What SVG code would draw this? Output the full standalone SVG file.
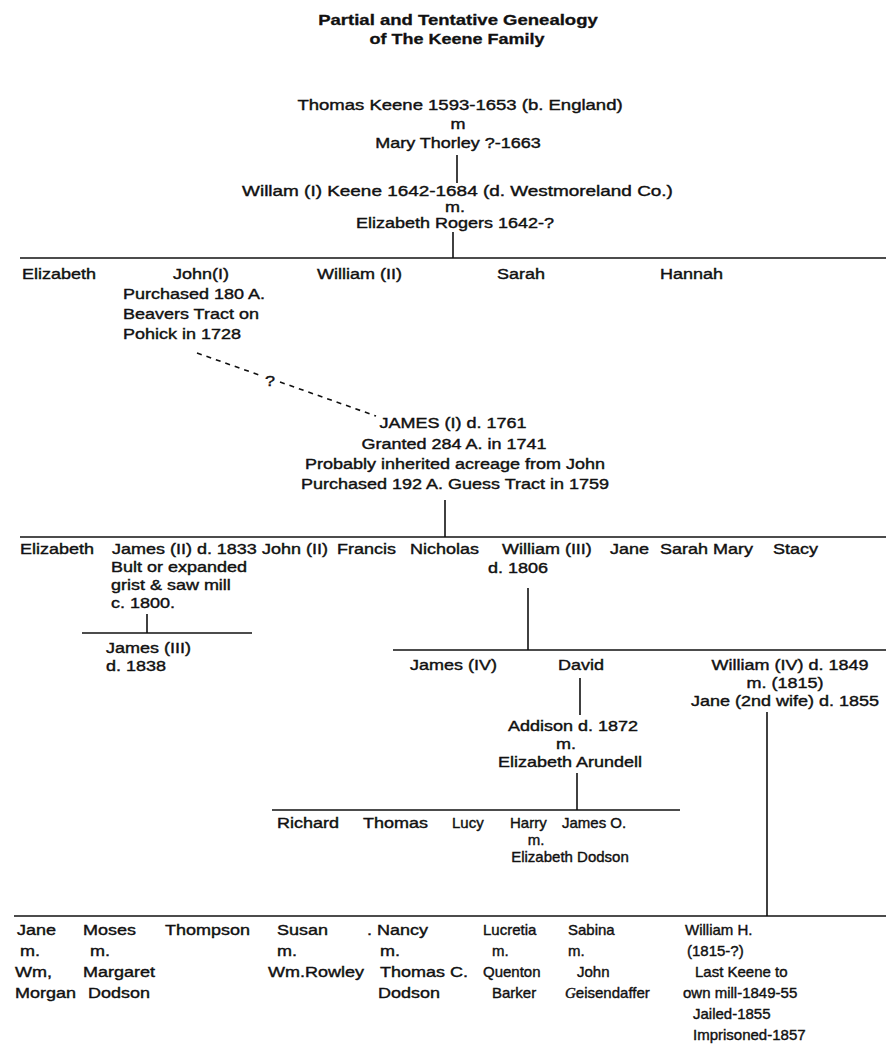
<svg xmlns="http://www.w3.org/2000/svg" width="886" height="1046" viewBox="0 0 886 1046">
<style>
text{font-family:"Liberation Sans",Arial,sans-serif;font-size:15px;fill:#111;stroke:#111;stroke-width:0.4}
.t{font-weight:bold;stroke-width:0.3}
.m{text-anchor:middle}
.ln{stroke:#111;stroke-width:1.6;fill:none}
.ds{stroke:#111;stroke-width:1.6;fill:none;stroke-dasharray:5 5}
.g{font-family:"Liberation Serif",serif;font-style:italic}
</style>
<rect width="886" height="1046" fill="#fff"/>
<g id="connectors">
<line class="ln" x1="457" y1="155" x2="457" y2="183"/>
<line class="ln" x1="453" y1="232" x2="453" y2="258"/>
<line class="ln" x1="20" y1="258" x2="886" y2="258"/>
<line class="ds" x1="197" y1="353" x2="262" y2="376"/>
<line class="ds" x1="280" y1="382" x2="376" y2="416"/>
<line class="ln" x1="445" y1="500" x2="445" y2="537"/>
<line class="ln" x1="20" y1="537" x2="886" y2="537"/>
<line class="ln" x1="147" y1="614" x2="147" y2="633"/>
<line class="ln" x1="82" y1="633" x2="252" y2="633"/>
<line class="ln" x1="528" y1="588" x2="528" y2="650"/>
<line class="ln" x1="393" y1="650" x2="886" y2="650"/>
<line class="ln" x1="580" y1="678" x2="580" y2="715"/>
<line class="ln" x1="577" y1="773" x2="577" y2="810"/>
<line class="ln" x1="272" y1="810" x2="680" y2="810"/>
<line class="ln" x1="767" y1="712" x2="767" y2="916"/>
<line class="ln" x1="14" y1="916" x2="886" y2="916"/>
</g>
<g transform="scale(1.2 1)">
<g id="title">
<text class="t m" x="381.67" y="25" textLength="233" lengthAdjust="spacingAndGlyphs">Partial and Tentative Genealogy</text>
<text class="t m" x="380.83" y="44">of The Keene Family</text>
</g>
<g id="thomas">
<text class="m" x="383.33" y="110" textLength="271" lengthAdjust="spacingAndGlyphs">Thomas Keene 1593-1653  (b. England)</text>
<text class="m" x="381.67" y="129">m</text>
<text class="m" x="381.67" y="148">Mary Thorley ?-1663</text>
</g>
<g id="william1">
<text class="m" x="381.25" y="196" textLength="359" lengthAdjust="spacingAndGlyphs">Willam (I) Keene  1642-1684 (d. Westmoreland Co.)</text>
<text class="m" x="379.17" y="212">m.</text>
<text class="m" x="379.17" y="228">Elizabeth Rogers 1642-?</text>
</g>
<g id="elizabeth1"><text x="18.33" y="279">Elizabeth</text></g>
<g id="john1">
<text x="144.17" y="279">John(I)</text>
<text x="102.5" y="299">Purchased 180 A.</text>
<text x="102.5" y="319">Beavers Tract on</text>
<text x="102.5" y="339">Pohick in 1728</text>
</g>
<g id="william2"><text x="264.17" y="279">William (II)</text></g>
<g id="sarah1"><text x="414.17" y="279">Sarah</text></g>
<g id="hannah"><text x="550" y="279">Hannah</text></g>
<g id="question"><text class="m" x="225" y="386">?</text></g>
<g id="james1">
<text class="m" x="377.5" y="428">JAMES (I)  d. 1761</text>
<text class="m" x="378.33" y="449">Granted 284 A. in 1741</text>
<text class="m" x="379.17" y="469">Probably inherited acreage  from John</text>
<text class="m" x="379.17" y="489">Purchased 192 A. Guess Tract in 1759</text>
</g>
<g id="elizabeth2"><text x="16.67" y="554">Elizabeth</text></g>
<g id="james2">
<text x="93.33" y="554">James (II) d. 1833</text>
<text x="92.5" y="572">Bult or expanded</text>
<text x="92.5" y="590">grist &amp; saw mill</text>
<text x="92.5" y="608">c. 1800.</text>
</g>
<g id="john2"><text x="218.33" y="554">John (II)</text></g>
<g id="francis"><text x="280.83" y="554">Francis</text></g>
<g id="nicholas"><text x="341.67" y="554">Nicholas</text></g>
<g id="william3">
<text x="418.33" y="554">William (III)</text>
<text x="406.67" y="573">d. 1806</text>
</g>
<g id="jane1"><text x="508.33" y="554">Jane</text></g>
<g id="sarah2"><text x="550" y="554">Sarah</text></g>
<g id="mary"><text x="594.17" y="554">Mary</text></g>
<g id="stacy"><text x="644.17" y="554">Stacy</text></g>
<g id="james3">
<text x="88.33" y="653">James (III)</text>
<text x="88.33" y="671">d. 1838</text>
</g>
<g id="james4"><text x="341.67" y="670">James (IV)</text></g>
<g id="david"><text x="465" y="670">David</text></g>
<g id="william4">
<text class="m" x="658.33" y="670">William (IV) d. 1849</text>
<text class="m" x="654.17" y="688">m. (1815)</text>
<text class="m" x="654.17" y="706">Jane (2nd wife) d. 1855</text>
</g>
<g id="addison">
<text x="423.33" y="731">Addison  d. 1872</text>
<text class="m" x="471.67" y="749">m.</text>
<text class="m" x="475" y="767">Elizabeth Arundell</text>
</g>
<g id="richard"><text x="230.83" y="828">Richard</text></g>
<g id="thomas2"><text x="302.5" y="828">Thomas</text></g>
<g id="jane2">
<text x="14.17" y="935">Jane</text>
<text x="16.67" y="956">m.</text>
<text x="12.5" y="977">Wm,</text>
<text x="12.5" y="998">Morgan</text>
</g>
<g id="moses">
<text x="69.17" y="935">Moses</text>
<text x="75" y="956">m.</text>
<text x="69.17" y="977">Margaret</text>
<text x="73.33" y="998">Dodson</text>
</g>
<g id="thompson"><text x="137.5" y="935">Thompson</text></g>
<g id="susan">
<text x="230.83" y="935">Susan</text>
<text x="230.83" y="956">m.</text>
<text x="223.33" y="977">Wm.Rowley</text>
</g>
<g id="nancy">
<text x="305.83" y="935">. Nancy</text>
<text x="316.67" y="956">m.</text>
<text x="316.67" y="977">Thomas C.</text>
<text x="315" y="998">Dodson</text>
</g>
</g>
<g id="lucy"><text x="452" y="828">Lucy</text></g>
<g id="harry">
<text x="510" y="828">Harry</text>
<text class="m" x="536" y="845">m.</text>
<text class="m" x="570" y="862">Elizabeth Dodson</text>
</g>
<g id="jameso"><text x="562" y="828">James O.</text></g>
<g id="lucretia">
<text x="483" y="935">Lucretia</text>
<text x="492" y="956">m.</text>
<text x="483" y="977">Quenton</text>
<text x="492" y="998">Barker</text>
</g>
<g id="sabina">
<text x="568" y="935">Sabina</text>
<text x="568" y="956">m.</text>
<text x="577" y="977">John</text>
<text x="565" y="998"><tspan class="g">G</tspan>eisendaffer</text>
</g>
<g id="williamh">
<text x="685" y="935">William H.</text>
<text x="687" y="956">(1815-?)</text>
<text x="695" y="977">Last Keene to</text>
<text x="683" y="998">own mill-1849-55</text>
<text x="693" y="1019">Jailed-1855</text>
<text x="693" y="1040">Imprisoned-1857</text>
</g>
</svg>
